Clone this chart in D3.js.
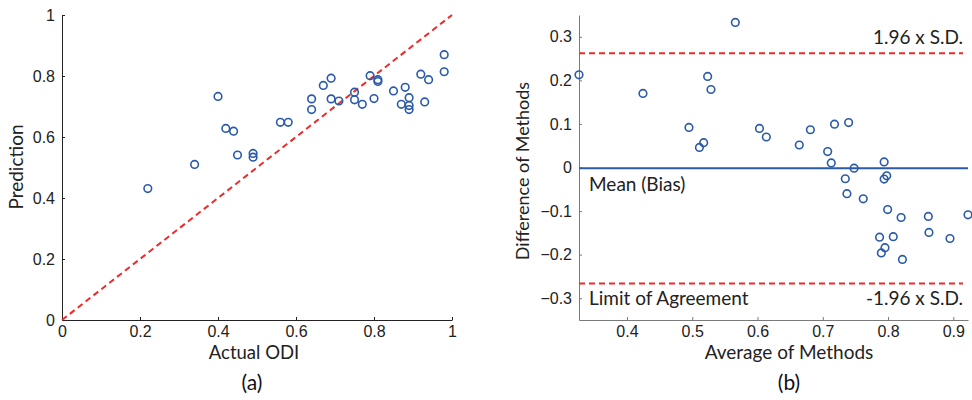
<!DOCTYPE html>
<html>
<head>
<meta charset="utf-8">
<script src="https://cdn.jsdelivr.net/npm/d3@7"></script>
<style>
  html, body { margin: 0; padding: 0; background: #fff; }
  svg { display: block; font-family: Lato, "Open Sans", sans-serif; }
  .tick text { fill: #222; }
</style>
</head>
<body>
<svg id="chart" width="972" height="400"></svg>
<script>
// Panel (a): actual vs predicted ODI
const actualODI = [0.22, 0.34, 0.40, 0.42, 0.44, 0.45, 0.49, 0.49, 0.56, 0.58,
  0.64, 0.64, 0.67, 0.69, 0.69, 0.71, 0.75, 0.75, 0.77, 0.79,
  0.80, 0.81, 0.81, 0.85, 0.87, 0.88, 0.89, 0.89, 0.89, 0.92,
  0.93, 0.94, 0.98, 0.98];
const predictedODI = [0.431, 0.510, 0.733, 0.628, 0.619, 0.541, 0.546, 0.534, 0.648, 0.648,
  0.725, 0.690, 0.769, 0.793, 0.725, 0.718, 0.747, 0.722, 0.707, 0.801,
  0.726, 0.788, 0.782, 0.751, 0.707, 0.763, 0.729, 0.703, 0.690, 0.806,
  0.715, 0.788, 0.870, 0.814];
const ticksA = [0, 0.2, 0.4, 0.6, 0.8, 1];

// Panel (b): Bland-Altman agreement
const averageOfMethods = [0.3265, 0.4245, 0.566, 0.495, 0.511, 0.5175, 0.5236, 0.5287, 0.603, 0.6135,
  0.664, 0.681, 0.7075, 0.713, 0.718, 0.7396, 0.7345, 0.737, 0.748, 0.762,
  0.787, 0.7897, 0.7953, 0.794, 0.794, 0.798, 0.7994, 0.808, 0.820, 0.822,
  0.8617, 0.8627, 0.8949, 0.9225];
const differenceOfMethods = [0.2127, 0.170, 0.333, 0.092, 0.046, 0.057, 0.209, 0.179, 0.0896, 0.070,
  0.0516, 0.0866, 0.0365, 0.0106, 0.0995, 0.103, -0.0258, -0.060, -0.0015, -0.072,
  -0.160, -0.196, -0.184, 0.0129, -0.0266, -0.019, -0.0965, -0.1587, -0.1147, -0.211,
  -0.1124, -0.149, -0.163, -0.1086];
const meanBias = -0.002;
const limitUpper = 0.2625;
const limitLower = -0.2665;
const ticksBx = [0.4, 0.5, 0.6, 0.7, 0.8, 0.9];
const ticksBy = [-0.3, -0.2, -0.1, 0, 0.1, 0.2, 0.3];

const svg = d3.select("#chart");
const blue = "#2a5aa8";
const red = "#ec2a2a";
const dash = "6,4";
const fmtA = d => d === 0 ? "0" : d === 1 ? "1" : d3.format(".1f")(d);
const fmtB = d => d === 0 ? "0" : (d < 0 ? "\u2212" : "") + d3.format(".1f")(Math.abs(d));

function styleAxis(g, color) {
  g.select(".domain").attr("stroke", color).attr("stroke-width", 1);
  g.selectAll(".tick line").attr("stroke", color);
  g.selectAll(".tick text").attr("font-size", 16).attr("fill", "#222");
}

// ---------- Panel (a) ----------
const xA = d3.scaleLinear().domain([0, 1]).range([62, 452]);
const yA = d3.scaleLinear().domain([0, 1]).range([320, 15]);
const gA = svg.append("g");

gA.append("g").attr("transform", `translate(0,${yA(0)})`)
  .call(d3.axisBottom(xA).tickValues(ticksA).tickFormat(fmtA).tickSizeInner(-3).tickSizeOuter(0).tickPadding(6))
  .call(g => styleAxis(g, "#222"));
gA.append("g").attr("transform", `translate(${xA(0)},0)`)
  .call(d3.axisLeft(yA).tickValues(ticksA).tickFormat(fmtA).tickSizeInner(-3).tickSizeOuter(0).tickPadding(7))
  .call(g => styleAxis(g, "#222"));

gA.append("line")
  .attr("x1", xA(0)).attr("y1", yA(0)).attr("x2", xA(1)).attr("y2", yA(1))
  .attr("stroke", red).attr("stroke-width", 2).attr("stroke-dasharray", dash);

gA.selectAll("circle").data(actualODI).join("circle")
  .attr("cx", d => xA(d)).attr("cy", (d, i) => yA(predictedODI[i]))
  .attr("r", 3.8).attr("fill", "none").attr("stroke", blue).attr("stroke-width", 1.6);

gA.append("text").attr("x", 254).attr("y", 359).attr("text-anchor", "middle")
  .attr("font-size", 18.5).attr("fill", "#222").text("Actual ODI");
gA.append("text").attr("transform", "translate(23,167) rotate(-90)").attr("text-anchor", "middle")
  .attr("font-size", 19).attr("fill", "#222").text("Prediction");
gA.append("text").attr("x", 252).attr("y", 390).attr("text-anchor", "middle")
  .attr("font-size", 21).attr("fill", "#111").text("(a)");

// ---------- Panel (b) ----------
const xB = d3.scaleLinear().domain([0.3265, 0.9225]).range([579, 968]);
const yB = d3.scaleLinear().domain([-0.35, 0.35]).range([320, 15]);
const gB = svg.append("g");

gB.append("g").attr("transform", `translate(0,${yB(-0.35)})`)
  .call(d3.axisBottom(xB).tickValues(ticksBx).tickFormat(fmtB).tickSizeInner(-3).tickSizeOuter(0).tickPadding(6))
  .call(g => styleAxis(g, "#7a7a7a"));
gB.append("g").attr("transform", `translate(${xB.range()[0]},0)`)
  .call(d3.axisLeft(yB).tickValues(ticksBy).tickFormat(fmtB).tickSizeInner(-3).tickSizeOuter(0).tickPadding(7))
  .call(g => styleAxis(g, "#7a7a7a"));

gB.append("line")
  .attr("x1", xB.range()[0]).attr("x2", xB.range()[1]).attr("y1", yB(meanBias)).attr("y2", yB(meanBias))
  .attr("stroke", blue).attr("stroke-width", 2);
[limitUpper, limitLower].forEach(v => {
  gB.append("line")
    .attr("x1", xB.range()[0]).attr("x2", xB.range()[1] - 5).attr("y1", yB(v)).attr("y2", yB(v))
    .attr("stroke", red).attr("stroke-width", 2).attr("stroke-dasharray", dash);
});

gB.selectAll("circle").data(averageOfMethods).join("circle")
  .attr("cx", d => xB(d)).attr("cy", (d, i) => yB(differenceOfMethods[i]))
  .attr("r", 3.8).attr("fill", "none").attr("stroke", blue).attr("stroke-width", 1.6);

const ann = [
  { t: "1.96 x S.D.", x: 963, y: 44, a: "end" },
  { t: "Mean (Bias)", x: 589, y: 191, a: "start" },
  { t: "Limit of Agreement", x: 589, y: 305, a: "start" },
  { t: "-1.96 x S.D.", x: 963, y: 305, a: "end" }
];
gB.selectAll("text.ann").data(ann).join("text").attr("class", "ann")
  .attr("x", d => d.x).attr("y", d => d.y).attr("text-anchor", d => d.a)
  .attr("font-size", 19).attr("fill", "#222").text(d => d.t);

gB.append("text").attr("x", 789).attr("y", 359).attr("text-anchor", "middle")
  .attr("font-size", 19).attr("fill", "#222").text("Average of Methods");
gB.append("text").attr("transform", "translate(529,171) rotate(-90)").attr("text-anchor", "middle")
  .attr("font-size", 18).attr("fill", "#222").text("Difference of Methods");
gB.append("text").attr("x", 789).attr("y", 390).attr("text-anchor", "middle")
  .attr("font-size", 21).attr("fill", "#111").text("(b)");
</script>
</body>
</html>
